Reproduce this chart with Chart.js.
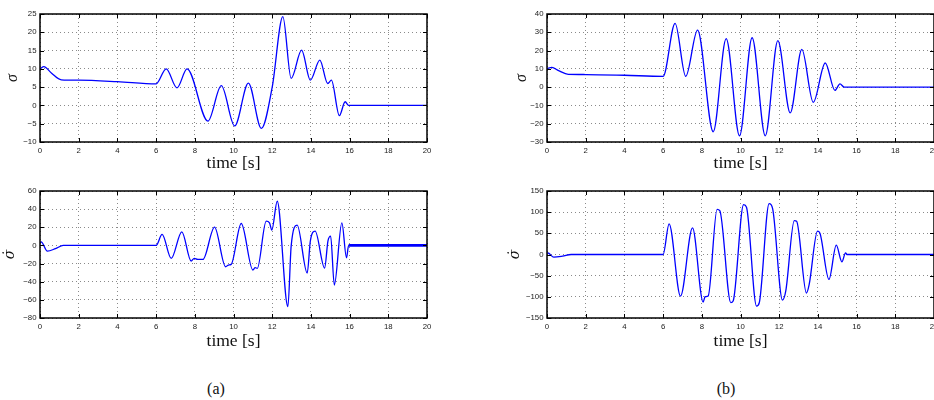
<!DOCTYPE html>
<html>
<head>
<meta charset="utf-8">
<script src="https://cdn.jsdelivr.net/npm/chart.js@4.4.1/dist/chart.umd.min.js"></script>
<style>
  html, body { margin: 0; padding: 0; background: #fff; }
  body { position: relative; width: 934px; height: 400px; overflow: hidden; }
  canvas { position: absolute; }
  .cap { position: absolute; font-family: "Liberation Serif", "Times New Roman", serif; font-size: 16px; color: #111; transform: translateX(-50%); }
</style>
</head>
<body>
<canvas id="a1" width="440" height="180" style="left:0;top:0"></canvas>
<canvas id="a2" width="440" height="180" style="left:0;top:180px"></canvas>
<canvas id="b1" width="490" height="180" style="left:470px;top:0"></canvas>
<canvas id="b2" width="490" height="180" style="left:470px;top:180px"></canvas>
<div class="cap" style="left:216px;top:380px">(a)</div>
<div class="cap" style="left:726px;top:380px">(b)</div>
<script>
// ---- shared axis ----
const timeTicks = [0, 2, 4, 6, 8, 10, 12, 14, 16, 18, 20];

// ---- case (a): sliding variable sigma ----
const tSigmaA = [0, 0.2, 0.6, 1.1, 2, 4, 6.0, 6.52, 7.08, 7.6, 8.68, 9.37, 10.06, 10.77, 11.44, 12.0, 12.55, 12.98, 13.52, 13.97, 14.46, 14.87, 15.06, 15.47, 15.77, 15.95, 20];
const sigmaA  = [10.0, 10.6, 8.8, 7.0, 6.9, 6.5, 5.9, 10.0, 4.8, 10.0, -4.3, 5.4, -5.6, 6.1, -6.3, 5.0, 24.3, 7.4, 15.1, 6.9, 12.4, 6.0, 6.9, -2.8, 1.0, 0, 0];
const sigmaTicksA = [-10, -5, 0, 5, 10, 15, 20, 25];

// ---- case (a): sigma rate ----
const tSigmaDotA = [0, 0.06, 0.38, 0.8, 1.2, 6.0, 6.31, 6.78, 7.33, 7.81, 7.97, 8.15, 8.42, 9.02, 9.59, 9.74, 9.88, 10.4, 11.0, 11.12, 11.23, 11.69, 11.86, 11.98, 12.26, 12.81, 12.98, 13.29, 13.81, 13.97, 14.22, 14.71, 14.88, 15.02, 15.21, 15.6, 15.84, 15.95, 20];
const sigmaDotA  = [3, 4, -6.3, -3.5, 0, 0, 12.1, -14.3, 15.0, -17.2, -14.3, -15.4, -15.4, 20.2, -23.5, -21.6, -20.9, 24.2, -27.1, -24.5, -25.3, 26.7, 24.9, 16.9, 48.7, -67.4, -0.7, 22.4, -30.4, 4.8, 15.8, -24.9, 4.8, 10.3, -43.6, 24.9, -13.6, 0, 0];
const sigmaDotTicksA = [-80, -60, -40, -20, 0, 20, 40, 60];

// ---- case (b): sliding variable sigma ----
const tSigmaB = [0, 0.25, 0.6, 1.1, 2, 4, 6.0, 6.62, 7.17, 7.78, 8.59, 9.26, 9.95, 10.6, 11.28, 11.93, 12.57, 13.17, 13.76, 14.38, 14.88, 15.14, 15.36, 20];
const sigmaB  = [10.2, 10.8, 9.0, 7.0, 6.9, 6.5, 5.9, 34.9, 5.9, 31.2, -24.4, 26.5, -26.6, 27.0, -26.6, 25.4, -14.1, 20.6, -8.3, 13.2, -1.8, 1.8, 0, 0];
const sigmaTicksB = [-30, -20, -10, 0, 10, 20, 30, 40];

// ---- case (b): sigma rate ----
const tSigmaDotB = [0, 0.05, 0.35, 0.8, 1.25, 6.0, 6.31, 6.9, 7.52, 8.07, 8.17, 8.33, 8.79, 8.93, 9.5, 9.62, 10.16, 10.31, 10.83, 10.97, 11.48, 11.66, 12.17, 12.34, 12.78, 12.9, 13.41, 13.55, 13.98, 14.1, 14.57, 14.95, 15.24, 15.43, 15.5, 20];
const sigmaDotB  = [3, 3.5, -6.3, -4, 0, 0, 72.3, -98.2, 62.8, -112.3, -99.8, -98, 106.8, 103.7, -113.9, -110, 117.8, 111.5, -121.8, -114, 120.2, 108.4, -107.6, -86, 80.1, 78.5, -91.1, -70.7, 55.0, 51, -58.9, 22.0, -17.3, 4, 0, 0];
const sigmaDotTicksB = [-150, -100, -50, 0, 50, 100, 150];

const tickFont = { family: '"Liberation Sans", Arial, Helvetica, sans-serif', size: 7.8 };
const serif = '"Liberation Serif", "Times New Roman", serif';
const fmt = v => String(v).replace('-', '\u2212');

// box around the axes with short inward tick marks on every side
const framePlugin = {
  id: 'frame',
  afterDatasetsDraw(chart) {
    const { ctx, chartArea: a, scales: { x, y } } = chart;
    ctx.save();
    ctx.strokeStyle = '#000';
    ctx.lineWidth = 1;
    const len = 4;
    ctx.beginPath();
    x.ticks.forEach(t => {
      const p = Math.round(x.getPixelForValue(t.value)) + 0.5;
      ctx.moveTo(p, a.bottom); ctx.lineTo(p, a.bottom - len);
      ctx.moveTo(p, a.top); ctx.lineTo(p, a.top + len);
    });
    y.ticks.forEach(t => {
      const p = Math.round(y.getPixelForValue(t.value)) + 0.5;
      ctx.moveTo(a.left, p); ctx.lineTo(a.left + len, p);
      ctx.moveTo(a.right, p); ctx.lineTo(a.right - len, p);
    });
    ctx.stroke();
    ctx.lineWidth = 1.5;
    ctx.strokeRect(a.left, a.top, a.right - a.left, a.bottom - a.top);
    ctx.restore();
  }
};

function makePanel(id, tArr, vArr, yTicks, yLabel, L) {
  const pts = tArr.map((t, i) => ({ x: t, y: vArr[i] }));
  const endT = L.thickFrom;
  new Chart(document.getElementById(id), {
    type: 'line',
    data: {
      datasets: [{
        data: pts,
        borderColor: '#0000ff',
        borderWidth: 1.3,
        pointRadius: 0,
        cubicInterpolationMode: 'monotone',
        fill: false,
        segment: {
          borderWidth: c => (endT !== undefined && c.p0.parsed.x >= endT) ? 2.8 : undefined
        }
      }]
    },
    options: {
      responsive: false,
      animation: false,
      events: [],
      layout: { padding: { left: 0, top: L.top, right: L.right, bottom: 0 } },
      plugins: { legend: { display: false }, tooltip: { enabled: false } },
      scales: {
        x: {
          type: 'linear', min: 0, max: 20,
          afterBuildTicks: s => { s.ticks = timeTicks.map(v => ({ value: v })); },
          afterFit: s => { s.height = L.xh; },
          grid: { color: '#8a8a8a', lineWidth: 1, drawTicks: false },
          border: { display: false, dash: [1, 3] },
          ticks: { font: tickFont, color: '#222', padding: 4, maxRotation: 0, callback: fmt },
          title: { display: true, text: 'time [s]', color: '#111',
                   font: { family: serif, size: 17.5 }, padding: { top: 0, bottom: L.xtp } }
        },
        y: {
          type: 'linear', min: yTicks[0], max: yTicks[yTicks.length - 1],
          afterBuildTicks: s => { s.ticks = yTicks.map(v => ({ value: v })); },
          afterFit: s => { s.width = L.yw; },
          grid: { color: '#8a8a8a', lineWidth: 1, drawTicks: false },
          border: { display: false, dash: [1, 3] },
          ticks: { font: tickFont, color: '#222', padding: 3.5, callback: fmt },
          title: { display: true, text: yLabel, color: '#111',
                   font: { family: L.yfont || serif, size: L.yfs || 16, style: 'italic' }, padding: { top: L.ytp, bottom: 0 } }
        }
      }
    },
    plugins: [framePlugin]
  });
}

const dotFont = '"DejaVu Serif", serif';
makePanel('a1', tSigmaA, sigmaA, sigmaTicksA, '\u03c3', { top: 14, right: 13, xh: 38, yw: 40, xtp: 6.5, ytp: 3.4 });
makePanel('a2', tSigmaDotA, sigmaDotA, sigmaDotTicksA, '\u03c3\u0307', { top: 11, right: 13, xh: 42, yw: 40, xtp: 8.5, ytp: 2.4, thickFrom: 15.95, yfont: dotFont, yfs: 14 });
makePanel('b1', tSigmaB, sigmaB, sigmaTicksB, '\u03c3', { top: 14, right: 26, xh: 38, yw: 77, xtp: 6.5, ytp: 42.4 });
makePanel('b2', tSigmaDotB, sigmaDotB, sigmaDotTicksB, '\u03c3\u0307', { top: 11, right: 26, xh: 42, yw: 77, xtp: 8.5, ytp: 37.4, yfont: dotFont, yfs: 14 });
</script>
</body>
</html>
